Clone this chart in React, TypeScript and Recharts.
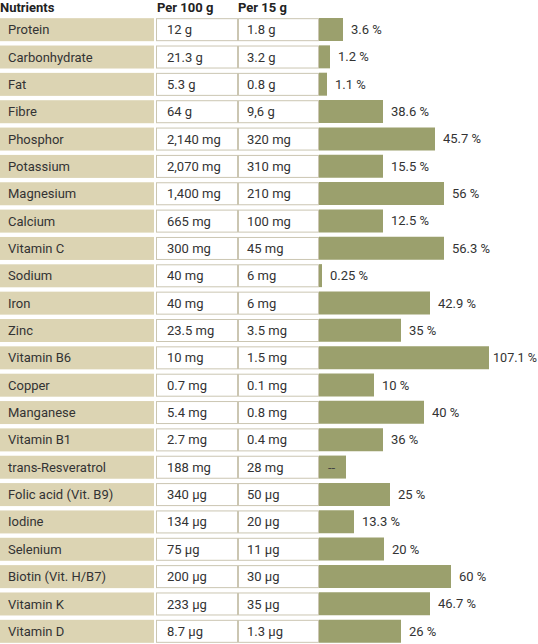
import { Bar, BarChart, XAxis, YAxis, LabelList } from 'recharts';

const nutrients = [
  'Protein', 'Carbonhydrate', 'Fat', 'Fibre', 'Phosphor', 'Potassium', 'Magnesium', 'Calcium',
  'Vitamin C', 'Sodium', 'Iron', 'Zinc', 'Vitamin B6', 'Copper', 'Manganese', 'Vitamin B1',
  'trans-Resveratrol', 'Folic acid (Vit. B9)', 'Iodine', 'Selenium', 'Biotin (Vit. H/B7)',
  'Vitamin K', 'Vitamin D',
];

const per100g = [
  '12 g', '21.3 g', '5.3 g', '64 g', '2,140 mg', '2,070 mg', '1,400 mg', '665 mg',
  '300 mg', '40 mg', '40 mg', '23.5 mg', '10 mg', '0.7 mg', '5.4 mg', '2.7 mg',
  '188 mg', '340 µg', '134 µg', '75 µg', '200 µg', '233 µg', '8.7 µg',
];

const per15g = [
  '1.8 g', '3.2 g', '0.8 g', '9,6 g', '320 mg', '310 mg', '210 mg', '100 mg',
  '45 mg', '6 mg', '6 mg', '3.5 mg', '1.5 mg', '0.1 mg', '0.8 mg', '0.4 mg',
  '28 mg', '50 µg', '20 µg', '11 µg', '30 µg', '35 µg', '1.3 µg',
];

const dailyShare = [
  '3.6 %', '1.2 %', '1.1 %', '38.6 %', '45.7 %', '15.5 %', '56 %', '12.5 %',
  '56.3 %', '0.25 %', '42.9 %', '35 %', '107.1 %', '10 %', '40 %', '36 %',
  '--', '25 %', '13.3 %', '20 %', '60 %', '46.7 %', '26 %',
];

// bar lengths as drawn in the original (not proportional to the labels)
const barLength = [
  24, 11, 8, 64, 116, 64, 125, 64,
  125, 3, 111, 82, 170, 55, 105, 64,
  27, 71, 35, 65, 132, 111, 82,
];

const BEIGE = '#dcd4b3';
const OLIVE = '#9ba06d';
const BORDER = '#cbc6b2';
const TEXT = '#333333';
const FONT = 'Roboto, "Noto Sans", sans-serif';

const data = nutrients.map((name, i) => ({
  name,
  a: per100g[i],
  b: per15g[i],
  pct: dailyShare[i],
  len: barLength[i],
}));

const RowTick = (props: any) => {
  const { y, payload } = props;
  const row = data.find((d) => d.name === payload.value);
  if (!row) return null;
  const top = y - 11.5;
  return (
    <g fontFamily={FONT} fontSize={13} fill={TEXT}>
      {row.name === nutrients[0] && (
        <g fontWeight={700} fill="#222">
          <text x={0} y={top - 6}>Nutrients</text>
          <text x={157} y={top - 6}>Per 100 g</text>
          <text x={238} y={top - 6}>Per 15 g</text>
        </g>
      )}
      <rect x={0} y={top} width={154} height={23} fill={BEIGE} />
      <rect x={156.5} y={top + 0.5} width={81} height={22} fill="#fff" stroke={BORDER} />
      <rect x={238.5} y={top + 0.5} width={80} height={22} fill="#fff" stroke={BORDER} />
      <text x={8} y={y} dy="0.35em">{row.name}</text>
      <text x={167} y={y} dy="0.35em">{row.a}</text>
      <text x={247} y={y} dy="0.35em">{row.b}</text>
    </g>
  );
};

const PctLabel = (props: any) => {
  const { x, y, width, height, index } = props;
  const label = dailyShare[index];
  const inside = label === '--';
  let start = inside ? x + 9 : x + width + 8;
  const est = label.length * 7.2;
  let fit: number | undefined;
  if (start + est > 537) {
    start = x + width + 4;
    fit = 537 - start;
  }
  return (
    <text
      x={start}
      y={y + height / 2}
      dy="0.35em"
      fontFamily={FONT}
      fontSize={13}
      fill={inside ? '#444' : TEXT}
      textLength={fit}
      lengthAdjust={fit ? 'spacingAndGlyphs' : undefined}
    >
      {label}
    </text>
  );
};

const App = () => {
  return (
    <div style={{ position: 'absolute', left: 0, top: 0, width: 538, height: 644, overflow: 'hidden', background: '#fff' }}>
      <BarChart
        width={538}
        height={645}
        data={data}
        layout="vertical"
        margin={{ top: 16, right: 0, bottom: 0, left: 0 }}
      >
        <XAxis type="number" hide domain={[0, 219]} />
        <YAxis
          type="category"
          dataKey="name"
          width={319}
          axisLine={false}
          tickLine={false}
          interval={0}
          tick={<RowTick />}
        />
        <Bar dataKey="len" fill={OLIVE} barSize={23} isAnimationActive={false}>
          <LabelList dataKey="pct" content={<PctLabel />} />
        </Bar>
      </BarChart>
    </div>
  );
};

export default App;
